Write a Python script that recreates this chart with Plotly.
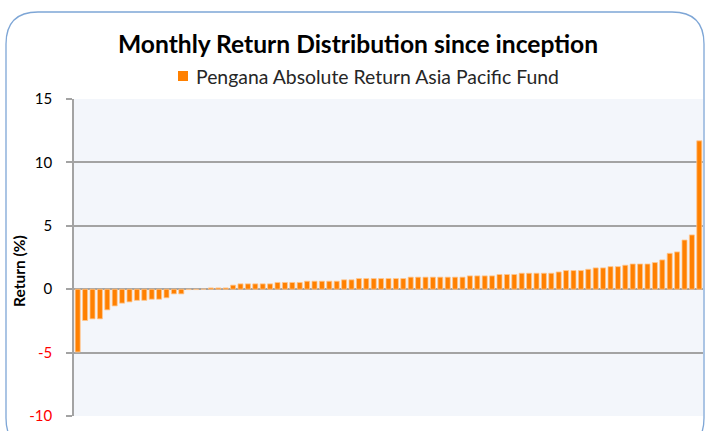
import plotly.graph_objects as go

# ---- data (sorted monthly returns, %) ----
months = list(range(1, 86))
returns = [
    -4.95, -2.47, -2.34, -2.34, -1.63, -1.32, -1.10, -1.00, -0.88, -0.88,
    -0.79, -0.79, -0.68, -0.37, -0.37, -0.03, -0.03, 0.00, 0.10, 0.10,
    0.10, 0.32, 0.42, 0.42, 0.42, 0.42, 0.42, 0.53, 0.53, 0.53,
    0.53, 0.63, 0.63, 0.63, 0.63, 0.63, 0.74, 0.74, 0.84, 0.84,
    0.84, 0.84, 0.84, 0.84, 0.84, 0.95, 0.95, 0.95, 0.95, 0.95,
    0.95, 0.95, 0.95, 1.05, 1.05, 1.05, 1.05, 1.16, 1.16, 1.16,
    1.26, 1.26, 1.26, 1.26, 1.26, 1.36, 1.47, 1.47, 1.47, 1.57,
    1.68, 1.68, 1.78, 1.78, 1.89, 1.99, 1.99, 1.99, 2.10, 2.31,
    2.83, 2.94, 3.88, 4.28, 11.70,
]
series_name = "Pengana Absolute Return Asia Pacific Fund"
tick_vals = [-10, -5, 0, 5, 10, 15]
tick_text = ["<span style='color:#ff0000'>-10</span>",
             "<span style='color:#ff0000'>-5</span>",
             "0", "5", "10", "15"]

W, H = 708, 431
L, R, T, B = 74, 5, 99, 15
pw, ph = W - L - R, H - T - B
BAR_COLOR = "#ff8000"


def px2paper(x, y):
    return (x - L) / pw, (H - B - y) / ph


def rounded_path(x0, y0, x1, y1, r):
    def P(x, y):
        px, py = px2paper(x, y)
        return f"{px:.5f},{py:.5f}"
    d = f"M{P(x0 + r, y0)} L{P(x1 - r, y0)} Q{P(x1, y0)} {P(x1, y0 + r)} "
    d += f"L{P(x1, y1 - r)} Q{P(x1, y1)} {P(x1 - r, y1)} "
    d += f"L{P(x0 + r, y1)} Q{P(x0, y1)} {P(x0, y1 - r)} "
    d += f"L{P(x0, y0 + r)} Q{P(x0, y0)} {P(x0 + r, y0)} Z"
    return d


font_family = "Lato, Carlito, Calibri, sans-serif"

fig = go.Figure()
fig.add_trace(go.Bar(
    x=months, y=returns, name=series_name,
    marker=dict(color=BAR_COLOR, line=dict(color="#ffc890", width=0.8)),
    showlegend=False,
))

lx0, ly0 = px2paper(178, 71)
lx1, ly1 = px2paper(188, 81)
tx, ty = px2paper(194, 76)

fig.update_layout(
    width=W, height=H,
    margin=dict(l=L, r=R, t=T, b=B, autoexpand=False),
    paper_bgcolor="white",
    plot_bgcolor="#f3f6fb",
    bargap=0.32,
    font=dict(family=font_family, color="#000000"),
    title=dict(
        text="<b>Monthly Return Distribution since inception</b>",
        font=dict(size=24.6, family=font_family, color="#000000"),
        x=358 / W, xanchor="center", xref="container",
        y=1 - 44 / H, yanchor="middle", yref="container",
    ),
    showlegend=False,
    xaxis=dict(
        range=[0.5, 85.5], showticklabels=False, showgrid=False,
        zeroline=False, showline=False, ticks="", automargin=False,
    ),
    yaxis=dict(
        range=[-10, 15], tickvals=tick_vals, ticktext=tick_text,
        showgrid=True, gridcolor="#a3a3a3", gridwidth=1.5,
        zeroline=False, showline=True, linecolor="#a3a3a3", linewidth=1.5,
        ticks="outside", ticklen=6, tickcolor="#a3a3a3", tickwidth=1.5,
        tickfont=dict(size=15, family=font_family, color="#000000"),
        ticklabelstandoff=11, automargin=False,
    ),
    shapes=[
        dict(
            type="path", xref="paper", yref="paper",
            path=rounded_path(6, 12, 704, 450, 32),
            line=dict(color="#7ea6d6", width=1.3),
            fillcolor="rgba(0,0,0,0)", layer="below",
        ),
        dict(
            type="rect", xref="paper", yref="paper",
            x0=lx0, y0=ly0, x1=lx1, y1=ly1,
            fillcolor=BAR_COLOR, line=dict(width=0),
        ),
    ],
    annotations=[
        dict(
            text="<b>Return (%)</b>", textangle=-90,
            xref="paper", yref="paper",
            x=px2paper(19, 0)[0], y=px2paper(0, 271)[1],
            xanchor="center", yanchor="middle", showarrow=False,
            font=dict(size=15.5, family=font_family, color="#000000"),
        ),
        dict(
            text=series_name,
            xref="paper", yref="paper", x=tx, y=ty,
            xanchor="left", yanchor="middle", showarrow=False,
            font=dict(size=19.4, family=font_family, color="#262626"),
        ),
    ],
)

fig.write_html(
    "out.html",
    config={"displayModeBar": False},
    post_script="document.body.style.margin='0';"
                "document.body.style.overflow='hidden';",
)
